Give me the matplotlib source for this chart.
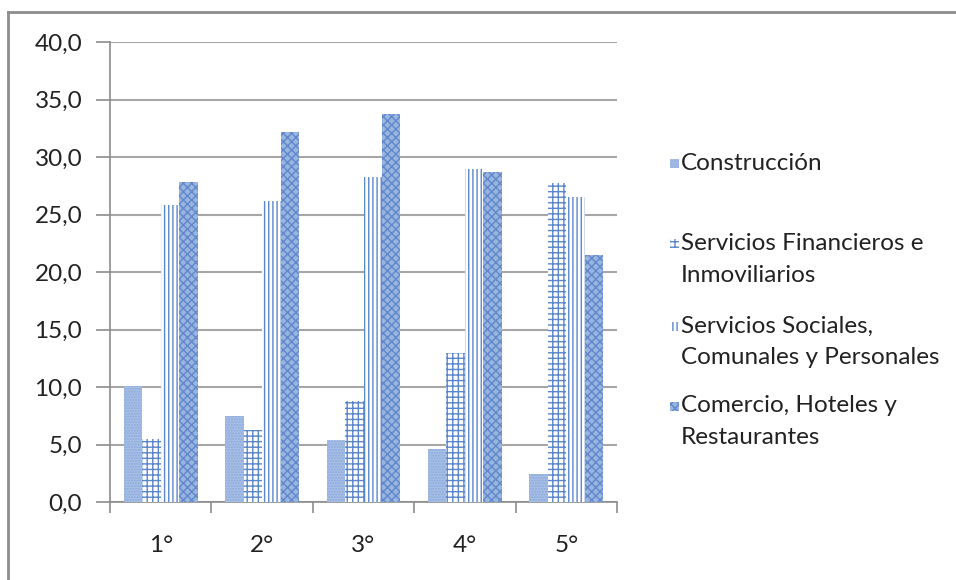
import numpy as np
import matplotlib
matplotlib.use("Agg")
import matplotlib.pyplot as plt
from matplotlib.patches import Rectangle
from matplotlib.lines import Line2D

# Quintiles and sector shares (%)
categories = ["1°", "2°", "3°", "4°", "5°"]
construccion = [10.1, 7.5, 5.4, 4.6, 2.4]
financieros = [5.5, 6.3, 8.8, 13.0, 27.7]
sociales = [25.8, 26.2, 28.3, 29.0, 26.5]
comercio = [27.8, 32.2, 33.7, 28.7, 21.5]
series_labels = [
    ["Construcción"],
    ["Servicios Financieros e", "Inmoviliarios"],
    ["Servicios Sociales,", "Comunales y Personales"],
    ["Comercio, Hoteles y", "Restaurantes"],
]
y_ticks = [0, 5, 10, 15, 20, 25, 30, 35, 40]

W, H = 956, 580
DPI = 100
FS = 17.5
plt.rcParams["font.family"] = ["Lato", "DejaVu Sans"]
plt.rcParams["hatch.linewidth"] = 1.0

fig = plt.figure(figsize=(W / DPI, H / DPI), dpi=DPI)


def fx(px):
    return px / W


def fy(py):
    return 1 - py / H


ax = fig.add_axes([fx(110), fy(502), fx(617) - fx(110), fy(42) - fy(502)])

styles = [
    dict(facecolor="#a9c0e6", edgecolor="#8aa8db", hatch="......"),
    dict(facecolor="white", edgecolor="#5b86c9", hatch="+++"),
    dict(facecolor="white", edgecolor="#5b86c9", hatch="||||"),
    dict(facecolor="#9ab4e0", edgecolor="#5f88cb", hatch="xxxx"),
]
series = [construccion, financieros, sociales, comercio]

x = np.arange(len(categories))
w = 0.1815
offsets = [-1.5 * w, -0.5 * w, 0.5 * w, 1.5 * w]
for vals, off, st in zip(series, offsets, styles):
    ax.bar(x + off, vals, width=w, linewidth=0, zorder=3, **st)

ax.set_xlim(-0.5, len(categories) - 0.5)
ax.set_ylim(0, 40)
ax.set_yticks(y_ticks)
ax.set_yticklabels([f"{v:.1f}".replace(".", ",") for v in y_ticks])
ax.yaxis.grid(True, color="#a6a6a6", linewidth=1.5, zorder=0)
ax.set_axisbelow(True)

# category boundaries carry the ticks; labels sit at the centres
ax.set_xticks(np.arange(-0.5, len(categories), 1.0))
ax.set_xticklabels([])
ax.set_xticks(x, minor=True)
ax.set_xticklabels(categories, minor=True)
ax.tick_params(axis="x", which="minor", length=0, pad=24, labelsize=FS, labelcolor="#222222")
ax.tick_params(axis="x", which="major", length=8, width=1.2, color="#8c8c8c", direction="out")
ax.tick_params(axis="y", length=10, width=1.2, color="#8c8c8c", pad=10, labelsize=FS, labelcolor="#222222")

for side in ["top", "right"]:
    ax.spines[side].set_visible(False)
for side in ["left", "bottom"]:
    ax.spines[side].set_color("#8c8c8c")
    ax.spines[side].set_linewidth(1.2)

# legend drawn by hand: small swatch next to first line of each label
legend_rows = [163, 243, 326, 406]
line_gap = 32
for lines, row, st in zip(series_labels, legend_rows, styles):
    fig.patches.append(Rectangle((fx(670), fy(row + 5)), fx(9), 9 / H,
                                 transform=fig.transFigure, linewidth=0, **st))
    for i, txt in enumerate(lines):
        fig.text(fx(681), fy(row + i * line_gap), txt, fontsize=FS,
                 color="#222222", va="center", ha="left")

# outer chart frame
fig.add_artist(Line2D([fx(8), fx(8)], [fy(12), fy(H + 5)], color="#8c8c8c",
                      linewidth=2, transform=fig.transFigure))
fig.add_artist(Line2D([fx(8), fx(W + 5)], [fy(12), fy(12)], color="#8c8c8c",
                      linewidth=2, transform=fig.transFigure))

fig.savefig("out.png", dpi=DPI)
